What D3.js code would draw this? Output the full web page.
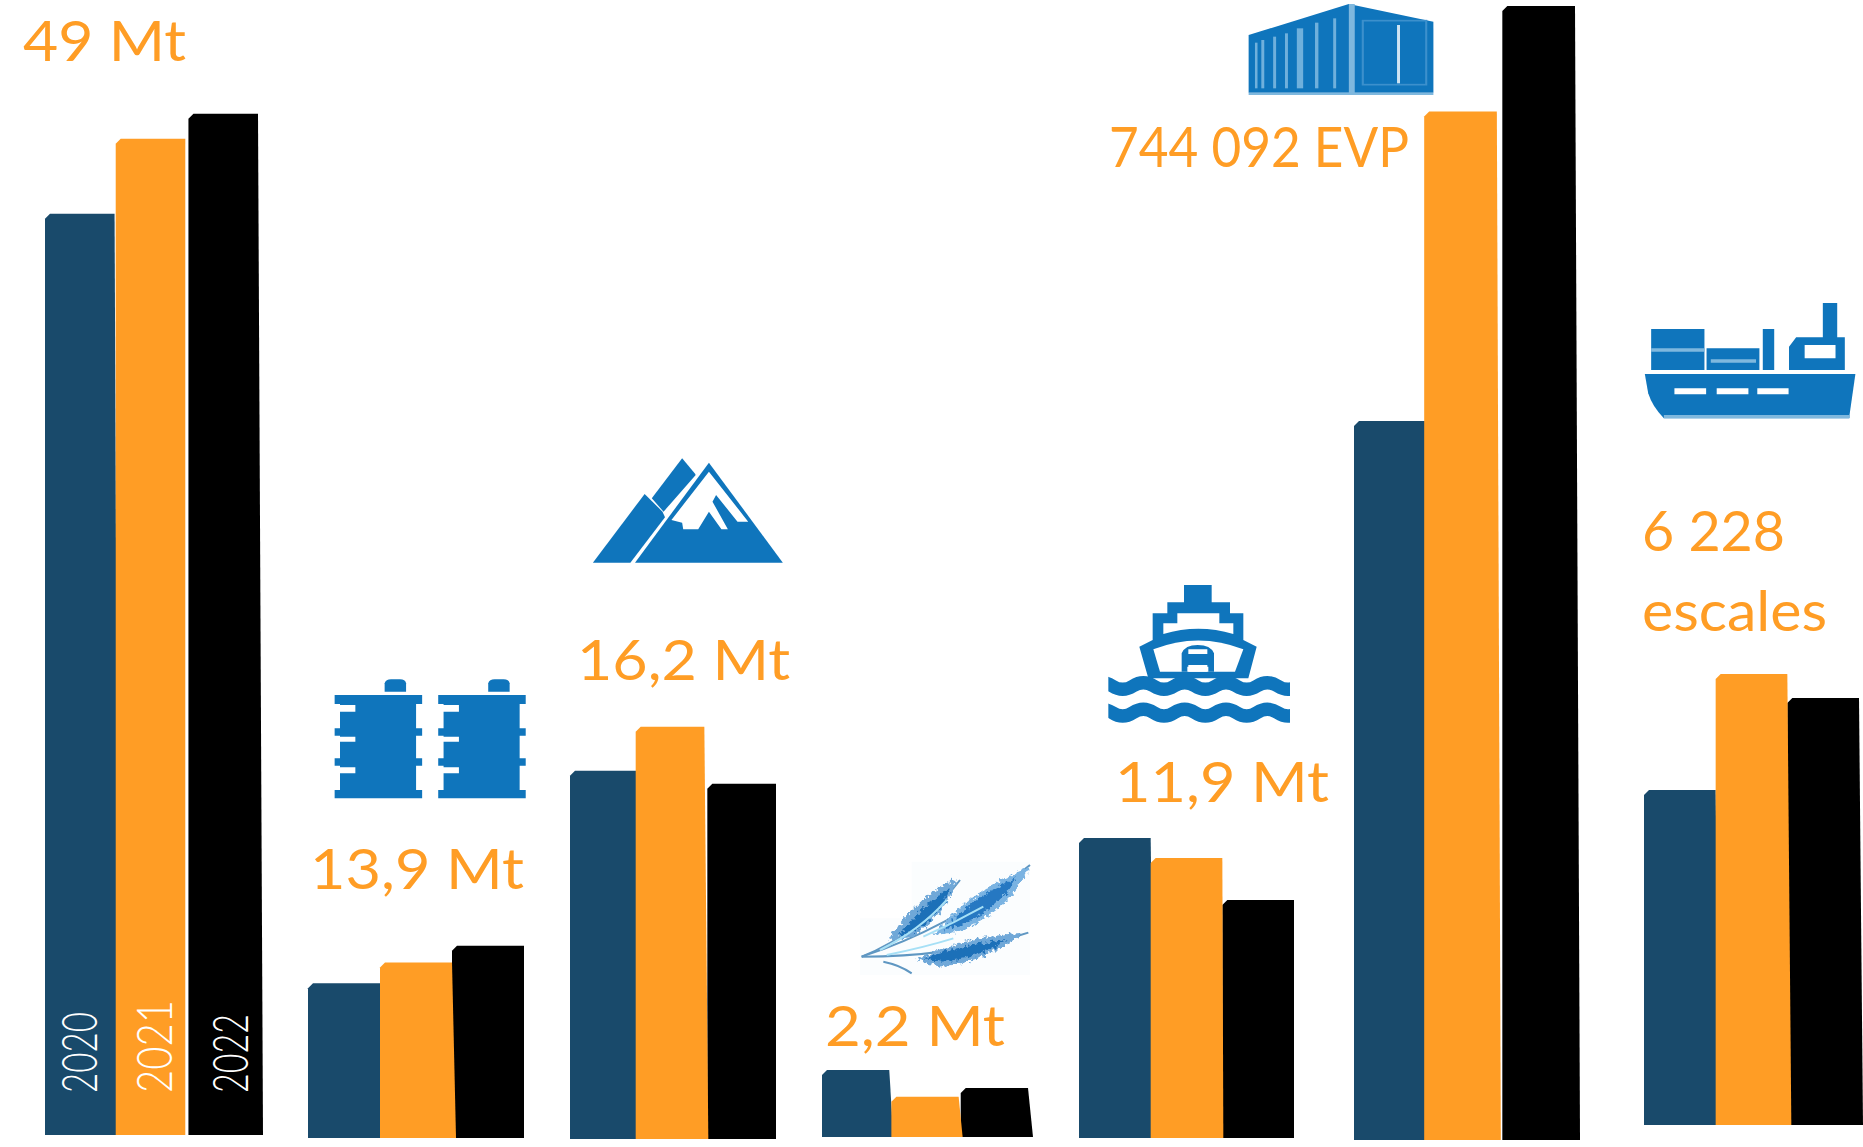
<!DOCTYPE html>
<html>
<head>
<meta charset="utf-8">
<script src="https://cdnjs.cloudflare.com/ajax/libs/d3/7.8.5/d3.min.js"></script>
<style>
  html, body { margin: 0; padding: 0; background: #fff; }
  svg { display: block; }
  .label { font-family: Lato, "Open Sans", sans-serif; fill: #ff9d25; }
  .year { font-family: Lato, "Open Sans", sans-serif; font-weight: 300; fill: #fff; }
</style>
</head>
<body>
<svg id="chart"></svg>
<script>
var years = ["2020", "2021", "2022"];
var groups = ["Total", "Hydrocarbures", "Minerais", "Céréales", "Rouliers", "Conteneurs", "Escales"];

// each group has its own unit
var values2020 = [44.2, 11.2, 16.8, 3.0, 15.0, 471800, 4886];
var values2021 = [47.8, 12.7, 18.8, 1.8, 14.0, 674800, 6578];
var values2022 = [49, 13.9, 16.2, 2.2, 11.9, 744092, 6228];
var groupMax = [54.6, 82.3, 51.9, 51, 56.9, 746700, 16600];

var labels = ["49 Mt", "13,9 Mt", "16,2 Mt", "2,2 Mt", "11,9 Mt", "744 092 EVP", "6 228"];

// layout
var width = 1863, height = 1147;
var groupSpan = [[45, 258], [308, 524], [570, 776], [822, 1028], [1079, 1294], [1354, 1575], [1644, 1859]];
var groupBase = [1135, 1138, 1139, 1137, 1138, 1140, 1125];
var groupPad = [0.03, 0, 0, 0.03, 0, 0.02, 0];
var orangeShift = [-1, 0, -3, 0, 0, -4, 0];
var leanBySeries = {
  "2020": [4, 0, 4, 4, 4, 4, 4],
  "2021": [0, 4, 4, 4, 1, 4, 4],
  "2022": [5, 0, 0, 5, 0, 5, 4]
};
var labelX = [23, 310, 577, 825, 1115, 1109, 1642];
var labelY = [61, 889, 680, 1046, 802, 167, 551];
var labelW = [163, 214, 213, 180, 214, 300, 143];
var yearX = [97, 172, 248];
var yearLen = [81, 93, 79];

var colors = d3.scaleOrdinal().domain(years).range(["#194a6b", "#ff9d25", "#000000"]);
var iconBlue = "#0f75bc";
var seriesValues = {"2020": values2020, "2021": values2021, "2022": values2022};
var drawOrder = ["2020", "2022", "2021"];

var svg = d3.select("#chart").attr("width", width).attr("height", height);
var defs = svg.append("defs");
var rough = defs.append("filter").attr("id", "rough")
  .attr("x", "-20%").attr("y", "-20%").attr("width", "140%").attr("height", "140%");
rough.append("feTurbulence").attr("type", "fractalNoise").attr("baseFrequency", 0.09)
  .attr("numOctaves", 2).attr("seed", 4).attr("result", "noise");
rough.append("feDisplacementMap").attr("in", "SourceGraphic").attr("in2", "noise")
  .attr("scale", 26).attr("xChannelSelector", "R").attr("yChannelSelector", "G").attr("result", "moved");
rough.append("feGaussianBlur").attr("in", "moved").attr("stdDeviation", 2);
defs.append("clipPath").attr("id", "waveClip").append("rect")
  .attr("x", 865).attr("y", 330).attr("width", 545).attr("height", 170);

function barPath(left, right, top, bottom, lean) {
  var cut = 5;
  var p = d3.path();
  p.moveTo(left, bottom);
  p.lineTo(left, top + cut);
  p.lineTo(left + cut, top);
  p.lineTo(right, top);
  p.lineTo(right + lean, bottom);
  p.closePath();
  return p.toString();
}

groups.forEach(function(g, i) {
  var x = d3.scaleBand().domain(years).range(groupSpan[i]).paddingInner(groupPad[i]);
  var y = d3.scaleLinear().domain([0, groupMax[i]]).range([groupBase[i], groupBase[i] - 1138]);

  svg.append("g").attr("class", "bars")
    .selectAll("path")
    .data(drawOrder)
    .enter().append("path")
    .attr("fill", function(d) { return colors(d); })
    .attr("d", function(d) {
      var left = x(d) + (d === "2021" ? orangeShift[i] : 0);
      return barPath(left, left + x.bandwidth(), y(seriesValues[d][i]), y(0), leanBySeries[d][i]);
    });

  svg.append("text")
    .attr("class", "label")
    .attr("x", labelX[i])
    .attr("y", labelY[i])
    .attr("font-size", 56)
    .attr("textLength", labelW[i])
    .attr("lengthAdjust", "spacingAndGlyphs")
    .text(labels[i]);
});

svg.append("text")
  .attr("class", "label")
  .attr("x", 1642)
  .attr("y", 631)
  .attr("font-size", 56)
  .attr("textLength", 185)
  .attr("lengthAdjust", "spacingAndGlyphs")
  .text("escales");

// years on the first group
svg.selectAll(".year")
  .data(years)
  .enter().append("text")
  .attr("class", "year")
  .attr("font-size", 50)
  .attr("transform", function(d, i) { return "translate(" + yearX[i] + ",1093) rotate(-90)"; })
  .attr("textLength", function(d, i) { return yearLen[i]; })
  .attr("lengthAdjust", "spacingAndGlyphs")
  .text(function(d) { return d; });

// icons, each one in the units of its own crop
function icon(tx, ty, sx, sy) {
  return svg.append("g").attr("transform", "translate(" + tx + "," + ty + ") scale(" + sx + "," + sy + ")");
}
function shape(g, d, fill) {
  return g.append("path").attr("d", d).attr("fill", fill || iconBlue);
}

// barrels
[0, 290].forEach(function(dx) {
  var b = icon(300 + dx / 2.8, 430, 1 / 2.8, 1 / 3);
  shape(b, "M237,785V760Q240,748 255,748H280Q295,748 297,760V785Z");
  shape(b, "M97,795H342V822H325V895H342V917H325V985H342V1007H325V1080H342V1105H97V1080H112V1007H97V985H112V917H97V895H112V822H97Z");
  shape(b, "M105,825H155V845H105ZM105,920H155V935H105ZM105,1012H155V1030H105Z", "#fff");
});

// mountain
var m = icon(300, 430, 1 / 2.8, 1 / 3);
shape(m, "M820,398L965,192L1015,245L1022,262L925,398Z");
shape(m, "M985,205L1070,85L1105,130L1108,135L1018,245Z");
shape(m, "M938,398L1145,98L1352,398Z");
shape(m, "M1145,125L1040,270L1070,278L1073,298L1115,298L1145,245L1180,298L1198,298L1155,215L1165,195L1225,275L1255,275Z", "#fff");

// ferry
var f = icon(820, 560, 1 / 3, 1 / 3);
shape(f, "M1092,75H1175V127H1230V160H1270V240L1310,260L1285,355H985L958,260L998,240V160H1042V127H1092Z");
shape(f, "M1072,160H1198V190H1240V222Q1135,190 1030,222V190H1072Z", "#fff");
shape(f, "M1000,268Q1135,215 1270,268L1245,335H1020Z", "#fff");
shape(f, "M1085,335V280Q1095,255 1133,255Q1172,255 1182,280V335H1165V320H1102V335Z");
shape(f, "M1105,268H1162V282H1105ZM1105,315H1162V335H1105Z", "#fff");
var waves = f.append("g").attr("clip-path", "url(#waveClip)");
[378, 458].forEach(function(wy) {
  waves.append("path")
    .attr("d", "M815," + wy + "q31,-20 62,0t62,0t62,0t62,0t62,0t62,0t62,0t62,0t62,0t62,0")
    .attr("fill", "none")
    .attr("stroke", iconBlue)
    .attr("stroke-width", 40);
});

// wheat
var w = icon(820, 560, 1 / 3, 1 / 3);
shape(w, "M275,905H630V1245H120V1075H275Z", "#fbfdfe");
w.append("g").attr("fill", "none").attr("stroke", "#5f97c2").attr("stroke-width", 6)
  .selectAll("path")
  .data([
    "M125,1190Q300,1120 420,960",
    "M125,1190Q400,1100 630,915",
    "M125,1190Q400,1190 625,1118",
    "M190,1205Q240,1215 275,1240"
  ])
  .enter().append("path").attr("d", function(d) { return d; });
var ears = w.append("g").attr("filter", "url(#rough)");
shape(ears, "M205,1140Q290,1010 410,955Q380,1060 280,1130Z", "#6fa8d8");
shape(ears, "M340,1125Q450,990 625,925Q570,1050 420,1115Z", "#7ab3e2");
shape(ears, "M290,1200Q430,1130 610,1118Q500,1205 360,1220Z", "#6fa8d8");
shape(ears, "M240,1125Q310,1030 390,985Q365,1060 285,1115Z", "#1f6fb8");
shape(ears, "M370,1110Q460,1010 585,955Q545,1040 425,1095Z", "#2778c2");
shape(ears, "M315,1195Q430,1150 560,1140Q480,1195 365,1205Z", "#1f6fb8");
w.append("g").attr("fill", "none").attr("stroke", "#a6e0f6").attr("stroke-width", 6)
  .selectAll("path")
  .data(["M180,1170Q300,1110 380,1020", "M310,1130Q400,1090 490,1040", "M200,1185Q320,1160 400,1135"])
  .enter().append("path").attr("d", function(d) { return d; });

// container
var c = icon(1200, 0, 1 / 2.365, 1 / 3);
shape(c, "M115,105L352,12L552,65V278H115Z");
shape(c, "M352,12H366V278H352ZM115,278H552V285H115Z", "#7fb8de");
c.append("g").attr("fill", "#6fb0dc")
  .selectAll("rect")
  .data([[130, 128, 6], [145, 120, 7], [173, 110, 7], [201, 100, 7], [229, 85, 15], [272, 68, 8], [315, 55, 7]])
  .enter().append("rect")
  .attr("x", function(d) { return d[0]; })
  .attr("y", function(d) { return d[1]; })
  .attr("width", function(d) { return d[2]; })
  .attr("height", function(d) { return 265 - d[1]; });
c.append("rect").attr("x", 385).attr("y", 62).attr("width", 150).attr("height", 192)
  .attr("fill", "none").attr("stroke", "#3c90cc").attr("stroke-width", 5);
shape(c, "M466,75H473V250H466Z", "#cfe4f3");

// ship
var s = icon(1200, 0, 1 / 2.365, 1 / 3);
shape(s, "M1067,987H1193V1110H1067ZM1198,1045H1323V1110H1198ZM1331,987H1358V1110H1331Z");
shape(s, "M1473,909H1507V1012H1525V1110H1393V1040L1410,1012H1473Z");
shape(s, "M1052,1122H1550L1535,1255H1097Q1070,1220 1060,1180Z");
shape(s, "M1067,1045H1193V1055H1067ZM1208,1078H1315V1088H1208ZM1097,1245H1537V1255H1097Z", "#7fb8de");
shape(s, "M1430,1035H1503V1075H1430ZM1122,1165H1197V1183H1122ZM1222,1165H1297V1183H1222ZM1318,1165H1392V1183H1318Z", "#fff");
</script>
</body>
</html>
